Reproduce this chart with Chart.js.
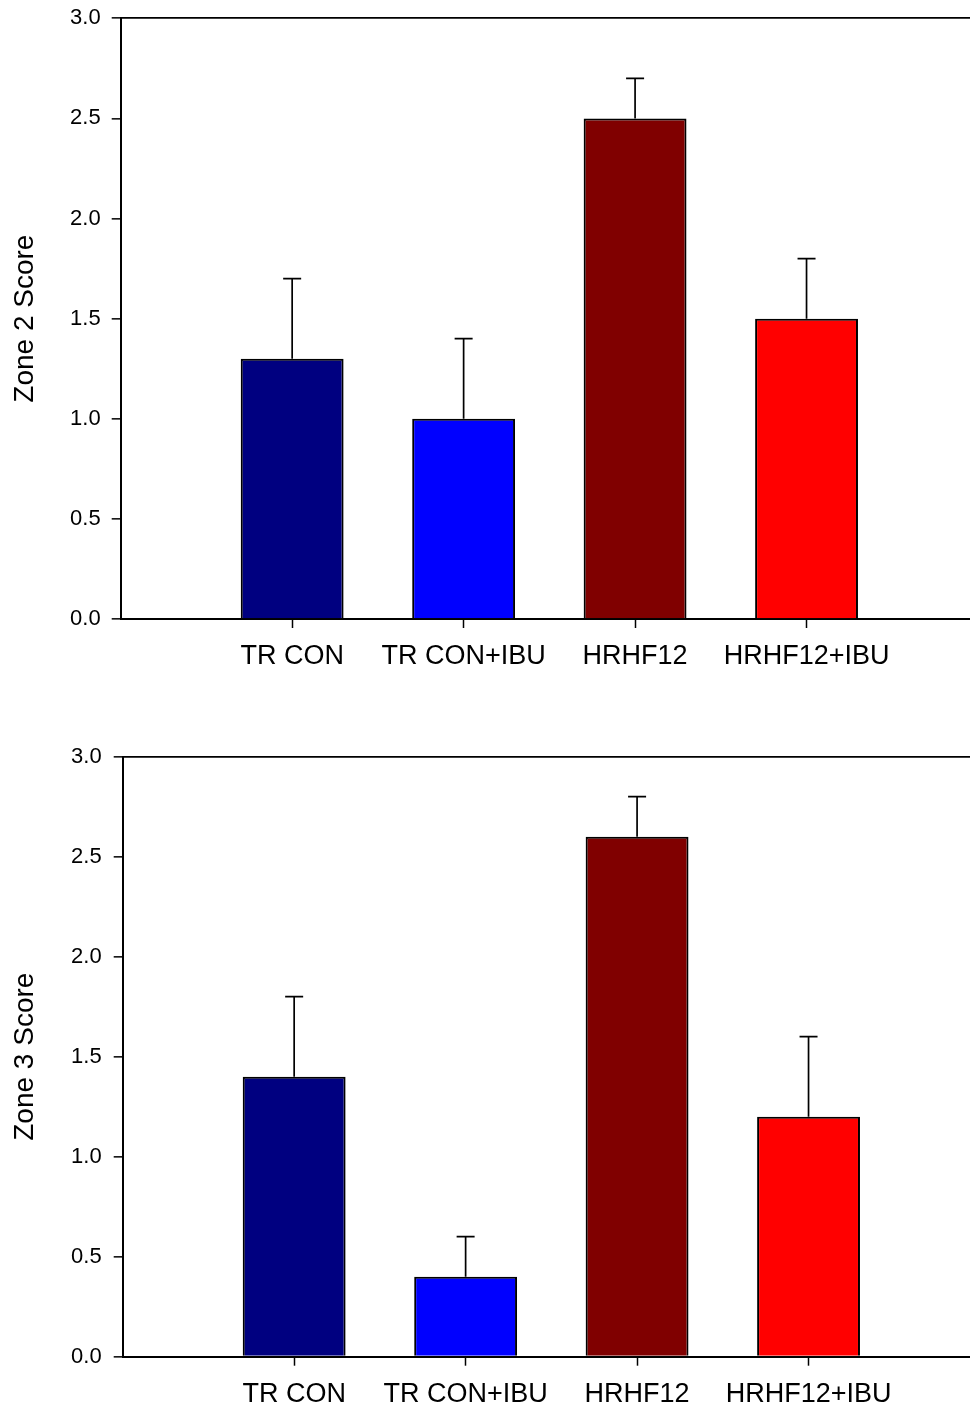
<!DOCTYPE html>
<html>
<head>
<meta charset="utf-8">
<script src="https://cdn.jsdelivr.net/npm/chart.js@4.4.1/dist/chart.umd.min.js"></script>
<style>
  html, body { margin:0; padding:0; background:#fff; overflow:hidden; }
  canvas { position:absolute; left:0; }
  #chartZone2 { top:0; }
  #chartZone3 { top:700px; }
</style>
</head>
<body>
<canvas id="chartZone2" width="978" height="700"></canvas>
<canvas id="chartZone3" width="980" height="712"></canvas>
<script>
// Zone scores, mean + upper SEM bar
const categories = ['TR CON', 'TR CON+IBU', 'HRHF12', 'HRHF12+IBU'];
const positions = [1, 2, 3, 4];
const barColors = ['#000080', '#0000ff', '#800000', '#ff0000'];
const zone2Means = [1.3, 1.0, 2.5, 1.5];
const zone2Errors = [0.4, 0.4, 0.2, 0.3];
const zone3Means = [1.4, 0.4, 2.6, 1.2];
const zone3Errors = [0.4, 0.2, 0.2, 0.4];
const yMin = 0, yMax = 3, yStep = 0.5;
const xMin = 0, xMax = 5;

const FONT = "'Liberation Sans', Arial, sans-serif";

// upper error bars with caps, drawn through the chart scales
const errorBars = {
    id: 'errorBars',
    afterDatasetsDraw(chart) {
        const {ctx, scales: {x, y}} = chart;
        const ds = chart.data.datasets[0];
        const errs = chart.options.plugins.errorBars.errors;
        ctx.save();
        ctx.strokeStyle = '#000';
        ctx.lineWidth = 1.7;
        ds.data.forEach((p, i) => {
            const px = x.getPixelForValue(p.x);
            const yb = y.getPixelForValue(p.y);
            const yt = y.getPixelForValue(p.y + errs[i]);
            ctx.beginPath();
            ctx.moveTo(px, yb); ctx.lineTo(px, yt);
            ctx.moveTo(px - 9, yt); ctx.lineTo(px + 9, yt);
            ctx.stroke();
        });
        ctx.restore();
    }
};

function mkChart(id, title, means, errs, o) {
    return new Chart(document.getElementById(id), {
        type: 'bar',
        data: {
            datasets: [{
                data: positions.map((p, i) => ({x: p, y: means[i]})),
                backgroundColor: barColors,
                borderColor: '#000',
                borderWidth: 2,
                barPercentage: 0.6,
                categoryPercentage: 1
            }]
        },
        options: {
            responsive: false,
            animation: false,
            layout: {padding: {top: o.top, left: 0, right: 0, bottom: 0}},
            plugins: {legend: {display: false}, tooltip: {enabled: false}, errorBars: {errors: errs}},
            scales: {
                x: {
                    type: 'linear', min: xMin, max: xMax, offset: false, z: 1,
                    afterBuildTicks: s => { s.ticks = positions.map(v => ({value: v})); },
                    afterFit: s => { s.height = o.xHeight; s.paddingLeft = 0; s.paddingRight = 0; },
                    ticks: {callback: v => categories[v - 1], color: '#000', font: {family: FONT, size: 27}, padding: o.xPad, maxRotation: 0, autoSkip: false},
                    grid: {drawOnChartArea: false, drawTicks: true, tickLength: 9, tickColor: '#000', tickWidth: 1.5, offset: false},
                    border: {color: '#000', width: 2}
                },
                y: {
                    min: yMin, max: yMax,
                    afterFit: s => { s.width = o.yWidth; s.paddingTop = 0; s.paddingBottom = 0; },
                    ticks: {stepSize: yStep, callback: v => v.toFixed(1), color: '#000', font: {family: FONT, size: 22}, padding: o.tickPad},
                    grid: {color: c => c.tick && c.tick.value === yMax ? '#000' : 'rgba(0,0,0,0)', lineWidth: 1.7, tickLength: 9, tickColor: '#000', tickWidth: 1.5},
                    border: {color: '#000', width: 2},
                    title: {display: true, text: title, color: '#000', font: {family: FONT, size: 28}, padding: {top: 8, bottom: 0}}
                }
            }
        },
        plugins: [errorBars]
    });
}

mkChart('chartZone2', 'Zone 2 Score', zone2Means, zone2Errors, {top: 18.3, xHeight: 81, yWidth: 120.7, tickPad: 11, xPad: 12});
mkChart('chartZone3', 'Zone 3 Score', zone3Means, zone3Errors, {top: 56.7, xHeight: 55.3, yWidth: 122.7, tickPad: 12, xPad: 13});
</script>
</body>
</html>
